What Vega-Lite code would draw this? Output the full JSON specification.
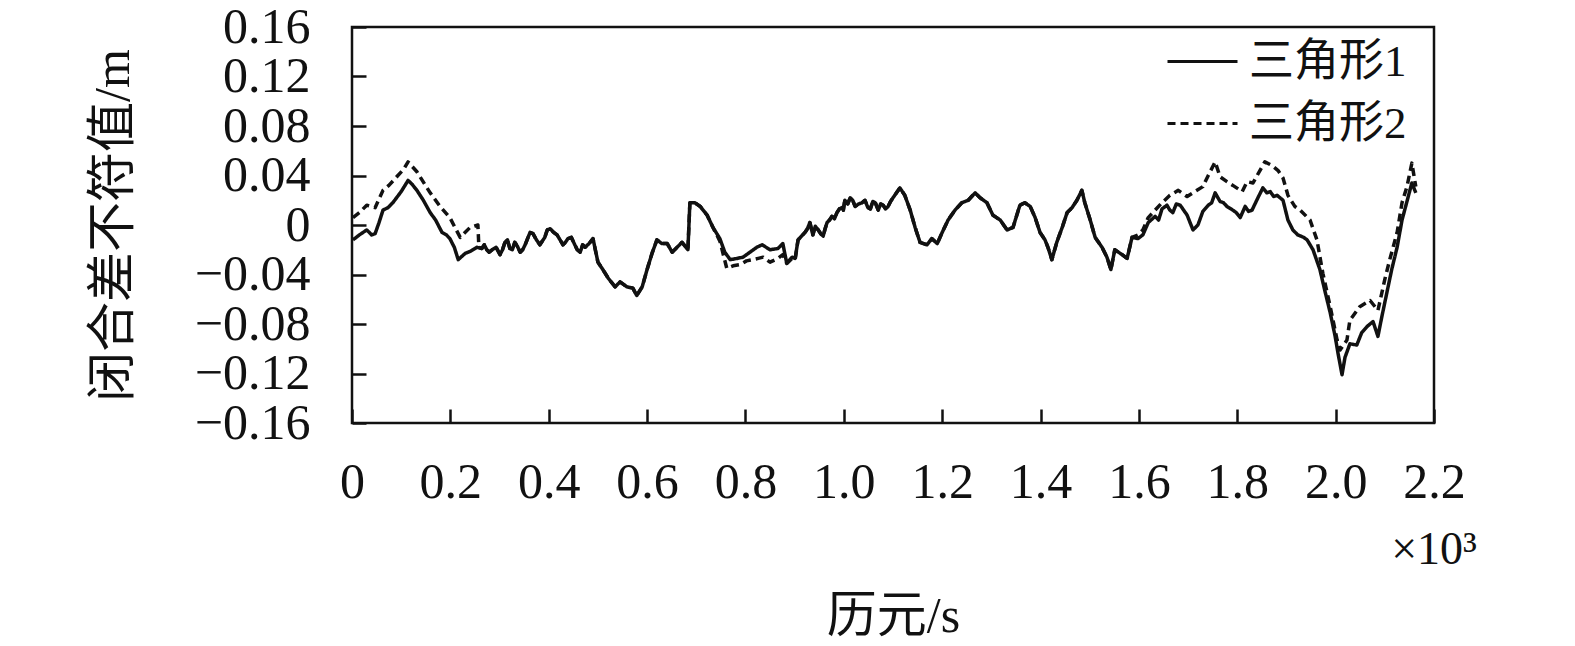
{
  "$schema": "https://vega.github.io/schema/vega-lite/v6.json",
  "autosize": "none",
  "width": 1082,
  "height": 396,
  "padding": {"left": 352, "top": 27, "right": 141, "bottom": 223},
  "background": "white",
  "config": {
    "view": {"stroke": "#111", "strokeWidth": 2.5},
    "font": "Liberation Serif, 'Noto Sans CJK SC'"
  },
  "layer": [
    {
      "data": {"values": [
        {"t":2,"v":-0.012,"s":"三角形1"},{"t":15,"v":-0.008,"s":"三角形1"},{"t":30,"v":-0.004,"s":"三角形1"},{"t":40,"v":-0.008,"s":"三角形1"},{"t":47,"v":-0.007,"s":"三角形1"},{"t":55,"v":0.002,"s":"三角形1"},{"t":63,"v":0.012,"s":"三角形1"},{"t":73,"v":0.014,"s":"三角形1"},{"t":83,"v":0.018,"s":"三角形1"},{"t":100,"v":0.027,"s":"三角形1"},{"t":114,"v":0.036,"s":"三角形1"},{"t":122,"v":0.033,"s":"三角形1"},{"t":132,"v":0.028,"s":"三角形1"},{"t":145,"v":0.02,"s":"三角形1"},{"t":159,"v":0.01,"s":"三角形1"},{"t":170,"v":0.004,"s":"三角形1"},{"t":183,"v":-0.006,"s":"三角形1"},{"t":192,"v":-0.008,"s":"三角形1"},{"t":199,"v":-0.011,"s":"三角形1"},{"t":208,"v":-0.018,"s":"三角形1"},{"t":216,"v":-0.028,"s":"三角形1"},{"t":230,"v":-0.023,"s":"三角形1"},{"t":242,"v":-0.021,"s":"三角形1"},{"t":254,"v":-0.018,"s":"三角形1"},{"t":264,"v":-0.019,"s":"三角形1"},{"t":269,"v":-0.016,"s":"三角形1"},{"t":274,"v":-0.02,"s":"三角形1"},{"t":279,"v":-0.022,"s":"三角形1"},{"t":285,"v":-0.02,"s":"三角形1"},{"t":293,"v":-0.018,"s":"三角形1"},{"t":301,"v":-0.024,"s":"三角形1"},{"t":306,"v":-0.02,"s":"三角形1"},{"t":311,"v":-0.014,"s":"三角形1"},{"t":316,"v":-0.012,"s":"三角形1"},{"t":321,"v":-0.019,"s":"三角形1"},{"t":326,"v":-0.02,"s":"三角形1"},{"t":331,"v":-0.014,"s":"三角形1"},{"t":336,"v":-0.017,"s":"三角形1"},{"t":342,"v":-0.022,"s":"三角形1"},{"t":347,"v":-0.02,"s":"三角形1"},{"t":352,"v":-0.016,"s":"三角形1"},{"t":357,"v":-0.011,"s":"三角形1"},{"t":362,"v":-0.006,"s":"三角形1"},{"t":368,"v":-0.007,"s":"三角形1"},{"t":375,"v":-0.012,"s":"三角形1"},{"t":382,"v":-0.016,"s":"三角形1"},{"t":387,"v":-0.013,"s":"三角形1"},{"t":392,"v":-0.01,"s":"三角形1"},{"t":397,"v":-0.004,"s":"三角形1"},{"t":403,"v":-0.003,"s":"三角形1"},{"t":410,"v":-0.006,"s":"三角形1"},{"t":417,"v":-0.008,"s":"三角形1"},{"t":423,"v":-0.012,"s":"三角形1"},{"t":429,"v":-0.016,"s":"三角形1"},{"t":434,"v":-0.014,"s":"三角形1"},{"t":439,"v":-0.011,"s":"三角形1"},{"t":446,"v":-0.01,"s":"三角形1"},{"t":453,"v":-0.016,"s":"三角形1"},{"t":458,"v":-0.02,"s":"三角形1"},{"t":464,"v":-0.022,"s":"三角形1"},{"t":469,"v":-0.016,"s":"三角形1"},{"t":474,"v":-0.018,"s":"三角形1"},{"t":482,"v":-0.015,"s":"三角形1"},{"t":490,"v":-0.011,"s":"三角形1"},{"t":500,"v":-0.03,"s":"三角形1"},{"t":510,"v":-0.036,"s":"三角形1"},{"t":521,"v":-0.043,"s":"三角形1"},{"t":535,"v":-0.05,"s":"三角形1"},{"t":545,"v":-0.046,"s":"三角形1"},{"t":559,"v":-0.05,"s":"三角形1"},{"t":571,"v":-0.051,"s":"三角形1"},{"t":579,"v":-0.057,"s":"三角形1"},{"t":590,"v":-0.05,"s":"三角形1"},{"t":600,"v":-0.036,"s":"三角形1"},{"t":610,"v":-0.023,"s":"三角形1"},{"t":620,"v":-0.012,"s":"三角形1"},{"t":630,"v":-0.015,"s":"三角形1"},{"t":641,"v":-0.015,"s":"三角形1"},{"t":651,"v":-0.022,"s":"三角形1"},{"t":661,"v":-0.018,"s":"三角形1"},{"t":671,"v":-0.014,"s":"三角形1"},{"t":683,"v":-0.02,"s":"三角形1"},{"t":687,"v":0.018,"s":"三角形1"},{"t":697,"v":0.018,"s":"三角形1"},{"t":708,"v":0.015,"s":"三角形1"},{"t":722,"v":0.008,"s":"三角形1"},{"t":734,"v":-0.002,"s":"三角形1"},{"t":748,"v":-0.011,"s":"三角形1"},{"t":758,"v":-0.022,"s":"三角形1"},{"t":769,"v":-0.028,"s":"三角形1"},{"t":783,"v":-0.027,"s":"三角形1"},{"t":795,"v":-0.026,"s":"三角形1"},{"t":809,"v":-0.022,"s":"三角形1"},{"t":823,"v":-0.018,"s":"三角形1"},{"t":834,"v":-0.016,"s":"三角形1"},{"t":850,"v":-0.02,"s":"三角形1"},{"t":866,"v":-0.019,"s":"三角形1"},{"t":876,"v":-0.015,"s":"三角形1"},{"t":884,"v":-0.031,"s":"三角形1"},{"t":895,"v":-0.026,"s":"三角形1"},{"t":901,"v":-0.027,"s":"三角形1"},{"t":907,"v":-0.012,"s":"三角形1"},{"t":914,"v":-0.009,"s":"三角形1"},{"t":921,"v":-0.006,"s":"三角形1"},{"t":926,"v":-0.003,"s":"三角形1"},{"t":931,"v":0.002,"s":"三角形1"},{"t":937,"v":-0.008,"s":"三角形1"},{"t":942,"v":-0.001,"s":"三角形1"},{"t":948,"v":-0.004,"s":"三角形1"},{"t":953,"v":-0.007,"s":"三角形1"},{"t":958,"v":-0.009,"s":"三角形1"},{"t":962,"v":-0.003,"s":"三角形1"},{"t":966,"v":0.002,"s":"三角形1"},{"t":971,"v":0.004,"s":"三角形1"},{"t":976,"v":0.007,"s":"三角形1"},{"t":981,"v":0.005,"s":"三角形1"},{"t":986,"v":0.01,"s":"三角形1"},{"t":991,"v":0.013,"s":"三角形1"},{"t":996,"v":0.014,"s":"三角形1"},{"t":999,"v":0.012,"s":"三角形1"},{"t":1002,"v":0.02,"s":"三角形1"},{"t":1008,"v":0.017,"s":"三角形1"},{"t":1013,"v":0.022,"s":"三角形1"},{"t":1018,"v":0.02,"s":"三角形1"},{"t":1023,"v":0.015,"s":"三角形1"},{"t":1030,"v":0.017,"s":"三角形1"},{"t":1037,"v":0.018,"s":"三角形1"},{"t":1043,"v":0.02,"s":"三角形1"},{"t":1049,"v":0.014,"s":"三角形1"},{"t":1054,"v":0.013,"s":"三角形1"},{"t":1059,"v":0.019,"s":"三角形1"},{"t":1064,"v":0.018,"s":"三角形1"},{"t":1070,"v":0.012,"s":"三角形1"},{"t":1075,"v":0.017,"s":"三角形1"},{"t":1080,"v":0.016,"s":"三角形1"},{"t":1085,"v":0.013,"s":"三角形1"},{"t":1090,"v":0.015,"s":"三角形1"},{"t":1095,"v":0.019,"s":"三角形1"},{"t":1100,"v":0.022,"s":"三角形1"},{"t":1114,"v":0.03,"s":"三角形1"},{"t":1124,"v":0.024,"s":"三角形1"},{"t":1135,"v":0.012,"s":"三角形1"},{"t":1145,"v":-0.002,"s":"三角形1"},{"t":1155,"v":-0.014,"s":"三角形1"},{"t":1169,"v":-0.016,"s":"三角形1"},{"t":1179,"v":-0.011,"s":"三角形1"},{"t":1190,"v":-0.015,"s":"三角形1"},{"t":1200,"v":-0.006,"s":"三角形1"},{"t":1212,"v":0.004,"s":"三角形1"},{"t":1226,"v":0.012,"s":"三角形1"},{"t":1240,"v":0.018,"s":"三角形1"},{"t":1253,"v":0.02,"s":"三角形1"},{"t":1267,"v":0.026,"s":"三角形1"},{"t":1277,"v":0.022,"s":"三角形1"},{"t":1291,"v":0.018,"s":"三角形1"},{"t":1303,"v":0.008,"s":"三角形1"},{"t":1318,"v":0.004,"s":"三角形1"},{"t":1332,"v":-0.004,"s":"三角形1"},{"t":1344,"v":-0.002,"s":"三角形1"},{"t":1358,"v":0.016,"s":"三角形1"},{"t":1368,"v":0.018,"s":"三角形1"},{"t":1379,"v":0.015,"s":"三角形1"},{"t":1389,"v":0.006,"s":"三角形1"},{"t":1399,"v":-0.006,"s":"三角形1"},{"t":1409,"v":-0.012,"s":"三角形1"},{"t":1415,"v":-0.018,"s":"三角形1"},{"t":1423,"v":-0.028,"s":"三角形1"},{"t":1433,"v":-0.014,"s":"三角形1"},{"t":1444,"v":-0.002,"s":"三角形1"},{"t":1454,"v":0.01,"s":"三角形1"},{"t":1464,"v":0.014,"s":"三角形1"},{"t":1474,"v":0.02,"s":"三角形1"},{"t":1484,"v":0.028,"s":"三角形1"},{"t":1490,"v":0.018,"s":"三角形1"},{"t":1501,"v":0.004,"s":"三角形1"},{"t":1511,"v":-0.01,"s":"三角形1"},{"t":1525,"v":-0.018,"s":"三角形1"},{"t":1535,"v":-0.026,"s":"三角形1"},{"t":1543,"v":-0.036,"s":"三角形1"},{"t":1551,"v":-0.02,"s":"三角形1"},{"t":1566,"v":-0.024,"s":"三角形1"},{"t":1576,"v":-0.027,"s":"三角形1"},{"t":1586,"v":-0.01,"s":"三角形1"},{"t":1598,"v":-0.011,"s":"三角形1"},{"t":1608,"v":-0.008,"s":"三角形1"},{"t":1619,"v":0.002,"s":"三角形1"},{"t":1633,"v":0.007,"s":"三角形1"},{"t":1640,"v":0.004,"s":"三角形1"},{"t":1647,"v":0.013,"s":"三角形1"},{"t":1657,"v":0.016,"s":"三角形1"},{"t":1663,"v":0.012,"s":"三角形1"},{"t":1669,"v":0.01,"s":"三角形1"},{"t":1676,"v":0.017,"s":"三角形1"},{"t":1684,"v":0.016,"s":"三角形1"},{"t":1691,"v":0.012,"s":"三角形1"},{"t":1698,"v":0.008,"s":"三角形1"},{"t":1710,"v":-0.004,"s":"三角形1"},{"t":1720,"v":0.0,"s":"三角形1"},{"t":1730,"v":0.011,"s":"三角形1"},{"t":1741,"v":0.016,"s":"三角形1"},{"t":1748,"v":0.018,"s":"三角形1"},{"t":1755,"v":0.026,"s":"三角形1"},{"t":1765,"v":0.019,"s":"三角形1"},{"t":1772,"v":0.018,"s":"三角形1"},{"t":1779,"v":0.015,"s":"三角形1"},{"t":1791,"v":0.012,"s":"三角形1"},{"t":1798,"v":0.01,"s":"三角形1"},{"t":1806,"v":0.006,"s":"三角形1"},{"t":1816,"v":0.015,"s":"三角形1"},{"t":1823,"v":0.011,"s":"三角形1"},{"t":1830,"v":0.012,"s":"三角形1"},{"t":1842,"v":0.022,"s":"三角形1"},{"t":1852,"v":0.03,"s":"三角形1"},{"t":1860,"v":0.026,"s":"三角形1"},{"t":1867,"v":0.027,"s":"三角形1"},{"t":1874,"v":0.023,"s":"三角形1"},{"t":1881,"v":0.024,"s":"三角形1"},{"t":1893,"v":0.02,"s":"三角形1"},{"t":1903,"v":0.004,"s":"三角形1"},{"t":1913,"v":-0.004,"s":"三角形1"},{"t":1923,"v":-0.008,"s":"三角形1"},{"t":1935,"v":-0.01,"s":"三角形1"},{"t":1942,"v":-0.012,"s":"三角形1"},{"t":1954,"v":-0.02,"s":"三角形1"},{"t":1968,"v":-0.036,"s":"三角形1"},{"t":1978,"v":-0.053,"s":"三角形1"},{"t":1989,"v":-0.071,"s":"三角形1"},{"t":1999,"v":-0.09,"s":"三角形1"},{"t":2005,"v":-0.104,"s":"三角形1"},{"t":2013,"v":-0.121,"s":"三角形1"},{"t":2019,"v":-0.107,"s":"三角形1"},{"t":2029,"v":-0.096,"s":"三角形1"},{"t":2043,"v":-0.097,"s":"三角形1"},{"t":2053,"v":-0.087,"s":"三角形1"},{"t":2064,"v":-0.082,"s":"三角形1"},{"t":2076,"v":-0.078,"s":"三角形1"},{"t":2086,"v":-0.09,"s":"三角形1"},{"t":2094,"v":-0.074,"s":"三角形1"},{"t":2104,"v":-0.055,"s":"三角形1"},{"t":2114,"v":-0.036,"s":"三角形1"},{"t":2125,"v":-0.018,"s":"三角形1"},{"t":2135,"v":0.004,"s":"三角形1"},{"t":2145,"v":0.019,"s":"三角形1"},{"t":2155,"v":0.034,"s":"三角形1"},{"t":2163,"v":0.026,"s":"三角形1"},

        {"t":2,"v":0.006,"s":"三角形2"},{"t":15,"v":0.01,"s":"三角形2"},{"t":30,"v":0.016,"s":"三角形2"},{"t":47,"v":0.014,"s":"三角形2"},{"t":63,"v":0.028,"s":"三角形2"},{"t":75,"v":0.032,"s":"三角形2"},{"t":91,"v":0.039,"s":"三角形2"},{"t":105,"v":0.045,"s":"三角形2"},{"t":114,"v":0.051,"s":"三角形2"},{"t":132,"v":0.043,"s":"三角形2"},{"t":159,"v":0.026,"s":"三角形2"},{"t":179,"v":0.015,"s":"三角形2"},{"t":199,"v":0.006,"s":"三角形2"},{"t":220,"v":-0.01,"s":"三角形2"},{"t":240,"v":-0.002,"s":"三角形2"},{"t":256,"v":0.0,"s":"三角形2"},{"t":258,"v":-0.018,"s":"三角形2"},{"t":264,"v":-0.019,"s":"三角形2"},{"t":269,"v":-0.016,"s":"三角形2"},{"t":274,"v":-0.02,"s":"三角形2"},{"t":279,"v":-0.022,"s":"三角形2"},{"t":285,"v":-0.02,"s":"三角形2"},{"t":293,"v":-0.018,"s":"三角形2"},{"t":301,"v":-0.024,"s":"三角形2"},{"t":306,"v":-0.02,"s":"三角形2"},{"t":311,"v":-0.014,"s":"三角形2"},{"t":316,"v":-0.012,"s":"三角形2"},{"t":321,"v":-0.019,"s":"三角形2"},{"t":326,"v":-0.02,"s":"三角形2"},{"t":331,"v":-0.014,"s":"三角形2"},{"t":336,"v":-0.017,"s":"三角形2"},{"t":342,"v":-0.022,"s":"三角形2"},{"t":347,"v":-0.02,"s":"三角形2"},{"t":352,"v":-0.016,"s":"三角形2"},{"t":357,"v":-0.011,"s":"三角形2"},{"t":362,"v":-0.006,"s":"三角形2"},{"t":368,"v":-0.007,"s":"三角形2"},{"t":375,"v":-0.012,"s":"三角形2"},{"t":382,"v":-0.016,"s":"三角形2"},{"t":387,"v":-0.013,"s":"三角形2"},{"t":392,"v":-0.01,"s":"三角形2"},{"t":397,"v":-0.004,"s":"三角形2"},{"t":403,"v":-0.003,"s":"三角形2"},{"t":410,"v":-0.006,"s":"三角形2"},{"t":417,"v":-0.008,"s":"三角形2"},{"t":423,"v":-0.012,"s":"三角形2"},{"t":429,"v":-0.016,"s":"三角形2"},{"t":434,"v":-0.014,"s":"三角形2"},{"t":439,"v":-0.011,"s":"三角形2"},{"t":446,"v":-0.01,"s":"三角形2"},{"t":453,"v":-0.016,"s":"三角形2"},{"t":458,"v":-0.02,"s":"三角形2"},{"t":464,"v":-0.022,"s":"三角形2"},{"t":469,"v":-0.016,"s":"三角形2"},{"t":474,"v":-0.018,"s":"三角形2"},{"t":482,"v":-0.015,"s":"三角形2"},{"t":490,"v":-0.011,"s":"三角形2"},{"t":500,"v":-0.03,"s":"三角形2"},{"t":510,"v":-0.036,"s":"三角形2"},{"t":521,"v":-0.043,"s":"三角形2"},{"t":535,"v":-0.05,"s":"三角形2"},{"t":545,"v":-0.046,"s":"三角形2"},{"t":559,"v":-0.05,"s":"三角形2"},{"t":571,"v":-0.051,"s":"三角形2"},{"t":579,"v":-0.057,"s":"三角形2"},{"t":590,"v":-0.05,"s":"三角形2"},{"t":600,"v":-0.036,"s":"三角形2"},{"t":610,"v":-0.023,"s":"三角形2"},{"t":620,"v":-0.012,"s":"三角形2"},{"t":630,"v":-0.015,"s":"三角形2"},{"t":641,"v":-0.015,"s":"三角形2"},{"t":651,"v":-0.022,"s":"三角形2"},{"t":661,"v":-0.018,"s":"三角形2"},{"t":671,"v":-0.014,"s":"三角形2"},{"t":683,"v":-0.02,"s":"三角形2"},{"t":687,"v":0.018,"s":"三角形2"},{"t":697,"v":0.018,"s":"三角形2"},{"t":708,"v":0.015,"s":"三角形2"},{"t":722,"v":0.008,"s":"三角形2"},{"t":734,"v":-0.002,"s":"三角形2"},{"t":748,"v":-0.013,"s":"三角形2"},{"t":762,"v":-0.035,"s":"三角形2"},{"t":775,"v":-0.033,"s":"三角形2"},{"t":789,"v":-0.032,"s":"三角形2"},{"t":802,"v":-0.029,"s":"三角形2"},{"t":815,"v":-0.028,"s":"三角形2"},{"t":826,"v":-0.027,"s":"三角形2"},{"t":836,"v":-0.026,"s":"三角形2"},{"t":850,"v":-0.03,"s":"三角形2"},{"t":866,"v":-0.027,"s":"三角形2"},{"t":876,"v":-0.024,"s":"三角形2"},{"t":884,"v":-0.031,"s":"三角形2"},{"t":895,"v":-0.027,"s":"三角形2"},{"t":901,"v":-0.028,"s":"三角形2"},{"t":907,"v":-0.012,"s":"三角形2"},{"t":914,"v":-0.009,"s":"三角形2"},{"t":921,"v":-0.006,"s":"三角形2"},{"t":926,"v":-0.003,"s":"三角形2"},{"t":931,"v":0.002,"s":"三角形2"},{"t":937,"v":-0.008,"s":"三角形2"},{"t":942,"v":-0.001,"s":"三角形2"},{"t":948,"v":-0.004,"s":"三角形2"},{"t":953,"v":-0.007,"s":"三角形2"},{"t":958,"v":-0.009,"s":"三角形2"},{"t":962,"v":-0.003,"s":"三角形2"},{"t":966,"v":0.002,"s":"三角形2"},{"t":971,"v":0.004,"s":"三角形2"},{"t":976,"v":0.007,"s":"三角形2"},{"t":981,"v":0.005,"s":"三角形2"},{"t":986,"v":0.01,"s":"三角形2"},{"t":991,"v":0.013,"s":"三角形2"},{"t":996,"v":0.014,"s":"三角形2"},{"t":999,"v":0.012,"s":"三角形2"},{"t":1002,"v":0.02,"s":"三角形2"},{"t":1008,"v":0.017,"s":"三角形2"},{"t":1013,"v":0.022,"s":"三角形2"},{"t":1018,"v":0.02,"s":"三角形2"},{"t":1023,"v":0.015,"s":"三角形2"},{"t":1030,"v":0.017,"s":"三角形2"},{"t":1037,"v":0.018,"s":"三角形2"},{"t":1043,"v":0.02,"s":"三角形2"},{"t":1049,"v":0.014,"s":"三角形2"},{"t":1054,"v":0.013,"s":"三角形2"},{"t":1059,"v":0.019,"s":"三角形2"},{"t":1064,"v":0.018,"s":"三角形2"},{"t":1070,"v":0.012,"s":"三角形2"},{"t":1075,"v":0.017,"s":"三角形2"},{"t":1080,"v":0.016,"s":"三角形2"},{"t":1085,"v":0.013,"s":"三角形2"},{"t":1090,"v":0.015,"s":"三角形2"},{"t":1095,"v":0.019,"s":"三角形2"},{"t":1100,"v":0.022,"s":"三角形2"},{"t":1114,"v":0.03,"s":"三角形2"},{"t":1124,"v":0.024,"s":"三角形2"},{"t":1135,"v":0.012,"s":"三角形2"},{"t":1145,"v":-0.002,"s":"三角形2"},{"t":1155,"v":-0.014,"s":"三角形2"},{"t":1169,"v":-0.016,"s":"三角形2"},{"t":1179,"v":-0.011,"s":"三角形2"},{"t":1190,"v":-0.015,"s":"三角形2"},{"t":1200,"v":-0.006,"s":"三角形2"},{"t":1212,"v":0.004,"s":"三角形2"},{"t":1226,"v":0.012,"s":"三角形2"},{"t":1240,"v":0.018,"s":"三角形2"},{"t":1253,"v":0.02,"s":"三角形2"},{"t":1267,"v":0.026,"s":"三角形2"},{"t":1277,"v":0.022,"s":"三角形2"},{"t":1291,"v":0.018,"s":"三角形2"},{"t":1303,"v":0.008,"s":"三角形2"},{"t":1318,"v":0.004,"s":"三角形2"},{"t":1332,"v":-0.004,"s":"三角形2"},{"t":1344,"v":-0.002,"s":"三角形2"},{"t":1358,"v":0.016,"s":"三角形2"},{"t":1368,"v":0.018,"s":"三角形2"},{"t":1379,"v":0.015,"s":"三角形2"},{"t":1389,"v":0.006,"s":"三角形2"},{"t":1399,"v":-0.006,"s":"三角形2"},{"t":1409,"v":-0.012,"s":"三角形2"},{"t":1415,"v":-0.018,"s":"三角形2"},{"t":1423,"v":-0.028,"s":"三角形2"},{"t":1433,"v":-0.014,"s":"三角形2"},{"t":1444,"v":-0.002,"s":"三角形2"},{"t":1454,"v":0.01,"s":"三角形2"},{"t":1464,"v":0.014,"s":"三角形2"},{"t":1474,"v":0.02,"s":"三角形2"},{"t":1484,"v":0.028,"s":"三角形2"},{"t":1490,"v":0.018,"s":"三角形2"},{"t":1501,"v":0.004,"s":"三角形2"},{"t":1511,"v":-0.01,"s":"三角形2"},{"t":1525,"v":-0.018,"s":"三角形2"},{"t":1535,"v":-0.026,"s":"三角形2"},{"t":1543,"v":-0.036,"s":"三角形2"},{"t":1551,"v":-0.02,"s":"三角形2"},{"t":1566,"v":-0.024,"s":"三角形2"},{"t":1576,"v":-0.027,"s":"三角形2"},{"t":1586,"v":-0.01,"s":"三角形2"},{"t":1598,"v":-0.008,"s":"三角形2"},{"t":1608,"v":-0.004,"s":"三角形2"},{"t":1619,"v":0.006,"s":"三角形2"},{"t":1633,"v":0.012,"s":"三角形2"},{"t":1647,"v":0.018,"s":"三角形2"},{"t":1663,"v":0.024,"s":"三角形2"},{"t":1680,"v":0.028,"s":"三角形2"},{"t":1698,"v":0.023,"s":"三角形2"},{"t":1710,"v":0.026,"s":"三角形2"},{"t":1730,"v":0.031,"s":"三角形2"},{"t":1741,"v":0.04,"s":"三角形2"},{"t":1755,"v":0.051,"s":"三角形2"},{"t":1765,"v":0.039,"s":"三角形2"},{"t":1779,"v":0.035,"s":"三角形2"},{"t":1791,"v":0.032,"s":"三角形2"},{"t":1810,"v":0.027,"s":"三角形2"},{"t":1820,"v":0.035,"s":"三角形2"},{"t":1832,"v":0.034,"s":"三角形2"},{"t":1846,"v":0.044,"s":"三角形2"},{"t":1856,"v":0.051,"s":"三角形2"},{"t":1871,"v":0.048,"s":"三角形2"},{"t":1883,"v":0.044,"s":"三角形2"},{"t":1893,"v":0.038,"s":"三角形2"},{"t":1903,"v":0.024,"s":"三角形2"},{"t":1917,"v":0.015,"s":"三角形2"},{"t":1928,"v":0.012,"s":"三角形2"},{"t":1948,"v":0.004,"s":"三角形2"},{"t":1962,"v":-0.012,"s":"三角形2"},{"t":1974,"v":-0.039,"s":"三角形2"},{"t":1989,"v":-0.066,"s":"三角形2"},{"t":2003,"v":-0.093,"s":"三角形2"},{"t":2009,"v":-0.101,"s":"三角形2"},{"t":2023,"v":-0.093,"s":"三角形2"},{"t":2029,"v":-0.077,"s":"三角形2"},{"t":2049,"v":-0.066,"s":"三角形2"},{"t":2070,"v":-0.061,"s":"三角形2"},{"t":2086,"v":-0.069,"s":"三角形2"},{"t":2100,"v":-0.044,"s":"三角形2"},{"t":2110,"v":-0.028,"s":"三角形2"},{"t":2125,"v":-0.006,"s":"三角形2"},{"t":2135,"v":0.018,"s":"三角形2"},{"t":2145,"v":0.031,"s":"三角形2"},{"t":2155,"v":0.05,"s":"三角形2"},{"t":2163,"v":0.031,"s":"三角形2"}
      ]},
      "mark": {"type": "line", "color": "#111", "strokeWidth": 3.5, "strokeJoin": "round"},
      "encoding": {
        "x": {
          "field": "t", "type": "quantitative",
          "scale": {"domain": [0, 2200], "nice": false, "zero": false},
          "axis": {
            "values": [0,200,400,600,800,1000,1200,1400,1600,1800,2000,2200],
            "labelExpr": "datum.value == 0 ? '0' : format(datum.value / 1000, '.1f')",
            "title": "历元/s",
            "domain": false, "grid": false,
            "tickSize": -14, "tickWidth": 2.5, "tickColor": "#111",
            "labelFontSize": 50, "labelColor": "#111", "labelPadding": 48,
            "labelFlush": false, "labelOverlap": false,
            "titleFontSize": 50, "titleFontWeight": "normal", "titleColor": "#111", "titlePadding": 84
          }
        },
        "y": {
          "field": "v", "type": "quantitative",
          "scale": {"domain": [-0.16, 0.16], "nice": false, "zero": false},
          "axis": {
            "values": [-0.16,-0.12,-0.08,-0.04,0,0.04,0.08,0.12,0.16],
            "labelExpr": "datum.value == 0 ? '0' : format(datum.value, '.2f')",
            "title": "闭合差不符值/m",
            "domain": false, "grid": false,
            "tickSize": -14, "tickWidth": 2.5, "tickColor": "#111",
            "labelFontSize": 50, "labelColor": "#111", "labelPadding": 56,
            "labelFlush": false, "labelOverlap": false,
            "titleFontSize": 50, "titleFontWeight": "normal", "titleColor": "#111", "titlePadding": 56
          }
        },
        "strokeDash": {
          "field": "s", "type": "nominal",
          "scale": {"domain": ["三角形1", "三角形2"], "range": [[1, 0], [8, 5]]},
          "legend": {
            "title": null, "orient": "none", "legendX": 828, "legendY": 12,
            "symbolType": "M-2,0H2", "symbolSize": 1225, "symbolStrokeWidth": 3,
            "symbolStrokeColor": "#111",
            "labelFontSize": 45, "labelColor": "#111", "labelOffset": 24,
            "rowPadding": 16, "padding": 0
          }
        }
      }
    },
    {
      "data": {"values": [{"label": "×10³"}]},
      "mark": {"type": "text", "fontSize": 46, "color": "#111", "align": "center", "baseline": "middle"},
      "encoding": {
        "x": {"datum": 2200, "type": "quantitative"},
        "y": {"datum": -0.2627, "type": "quantitative"},
        "text": {"field": "label"}
      }
    }
  ]
}
